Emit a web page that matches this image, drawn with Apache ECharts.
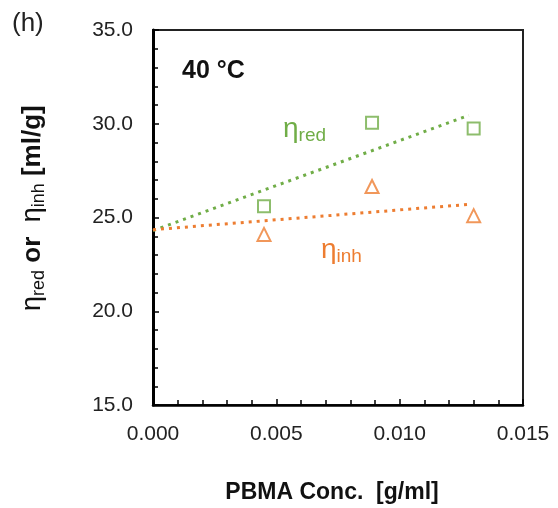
<!DOCTYPE html>
<html>
<head>
<meta charset="utf-8">
<script src="https://cdn.jsdelivr.net/npm/echarts@6/dist/echarts.min.js"></script>
<style>html,body{margin:0;padding:0;background:#fff;}#c{width:558px;height:508px;}</style>
</head>
<body>
<div id="c"></div>
<script>
// Data
var concX = [0.0045, 0.00888, 0.0130];          // PBMA conc. [g/ml]
var etaRed = [25.6, 30.05, 29.75];              // reduced viscosity [ml/g]
var etaInh = [24.1, 26.65, 25.1];               // inherent viscosity [ml/g]
var trendX = [0, 0.0128];                       // trend line x extent
var trendRed = [24.3, 30.45];                   // trend line for eta_red
var trendInh = [24.35, 25.7];                   // trend line for eta_inh
var xTicks = ['0.000', '0.005', '0.010', '0.015'];
var yTicks = ['15.0', '20.0', '25.0', '30.0', '35.0'];

var GREEN = '#70AD47', ORANGE = '#ED7D31';
var FONT = 'Liberation Sans';

function pairs(xs, ys) { return xs.map(function (x, i) { return [x, ys[i]]; }); }

var chart = echarts.init(document.getElementById('c'), null, {renderer: 'canvas'});
chart.setOption({
  backgroundColor: '#fff',
  animation: false,
  grid: {left: 153, right: 35, top: 30, bottom: 103, show: true, borderColor: '#222', borderWidth: 2, backgroundColor: 'transparent'},
  xAxis: {
    type: 'value', min: 0, max: 0.015, interval: 0.005,
    axisLine: {show: true, onZero: false, lineStyle: {color: '#000', width: 2.5}},
    axisTick: {show: true, inside: true, length: 6, lineStyle: {color: '#000', width: 1.5}},
    minorTick: {show: true, splitNumber: 5, length: 5, lineStyle: {color: '#000', width: 1.5}},
    axisLabel: {fontFamily: FONT, fontSize: 21, color: '#222', margin: 19,
      formatter: function (v) { var i = Math.round(v / 0.005); return xTicks[i] || ''; }},
    splitLine: {show: false}
  },
  yAxis: {
    type: 'value', min: 15, max: 35, interval: 5,
    axisLine: {show: true, onZero: false, lineStyle: {color: '#000', width: 3}},
    axisTick: {show: true, inside: true, length: 6, lineStyle: {color: '#000', width: 1.5}},
    minorTick: {show: true, splitNumber: 5, length: 5, lineStyle: {color: '#000', width: 1.5}},
    axisLabel: {fontFamily: FONT, fontSize: 21, color: '#222', margin: 20,
      formatter: function (v) { var i = Math.round((v - 15) / 5); return yTicks[i] || ''; }},
    splitLine: {show: false}
  },
  series: [
    {type: 'line', data: pairs(trendX, trendRed), showSymbol: false, symbol: 'none', silent: true,
      lineStyle: {color: GREEN, width: 3, type: [3, 5], cap: 'butt'}, z: 2},
    {type: 'line', data: pairs(trendX, trendInh), showSymbol: false, symbol: 'none', silent: true,
      lineStyle: {color: ORANGE, width: 3, type: [3, 5], cap: 'butt'}, z: 2},
    {type: 'scatter', data: pairs(concX, etaRed), symbol: 'rect', symbolSize: 12,
      itemStyle: {color: 'rgba(0,0,0,0)', borderColor: GREEN, borderWidth: 2}, z: 3},
    {type: 'scatter', data: pairs(concX, etaInh), symbol: 'triangle', symbolSize: 13,
      itemStyle: {color: 'rgba(0,0,0,0)', borderColor: ORANGE, borderWidth: 2}, z: 3}
  ],
  graphic: [
    {type: 'text', left: 12, top: 11, style: {text: '(h)', fontFamily: FONT, fontSize: 26, fill: '#222'}},
    {type: 'text', left: 182, top: 59, style: {text: '40 °C', fontFamily: FONT, fontWeight: 'bold', fontSize: 25, fill: '#111'}},
    {type: 'text', x: 332, y: 493, style: {text: 'PBMA Conc.  [g/ml]', fontFamily: FONT, fontWeight: 'bold', fontSize: 23,
      fill: '#111', align: 'center', verticalAlign: 'middle'}},
    {type: 'text', x: 283, y: 113, style: {
      text: '{e|η}{s|red}', fill: GREEN,
      rich: {e: {fontFamily: FONT, fontSize: 28, lineHeight: 32, fill: GREEN},
             s: {fontFamily: FONT, fontSize: 19, lineHeight: 19, verticalAlign: 'bottom', fill: GREEN}}}},
    {type: 'text', x: 321, y: 234, style: {
      text: '{e|η}{s|inh}', fill: ORANGE,
      rich: {e: {fontFamily: FONT, fontSize: 28, lineHeight: 32, fill: ORANGE},
             s: {fontFamily: FONT, fontSize: 19, lineHeight: 19, verticalAlign: 'bottom', fill: ORANGE}}}},
    {type: 'text', x: 17, y: 311, rotation: Math.PI / 2, style: {
      text: '{e|η}{s|red}{b| or  }{e|η}{s|inh}{b| [ml/g]}', fill: '#111',
      rich: {e: {fontFamily: FONT, fontSize: 27, lineHeight: 31, fill: '#111'},
             s: {fontFamily: FONT, fontSize: 18, lineHeight: 18, verticalAlign: 'bottom', fill: '#111'},
             b: {fontFamily: FONT, fontSize: 26, fontWeight: 'bold', lineHeight: 31, fill: '#111'}}}}
  ]
});
</script>
</body>
</html>
